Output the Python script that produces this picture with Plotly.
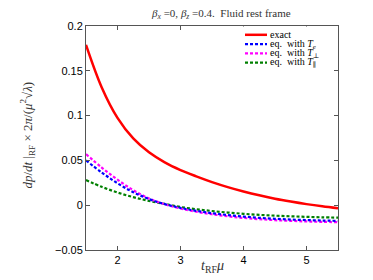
import plotly.graph_objects as go

# ---- data ----
x_vals = [1.5, 1.75, 2.0, 2.25, 2.5, 2.75, 3.0, 3.25, 3.5, 3.75, 4.0, 4.25, 4.5, 4.75, 5.0, 5.25, 5.5]
y_exact = [0.179, 0.1315, 0.0975, 0.0745, 0.059, 0.0478, 0.0392, 0.0322, 0.0258, 0.0202, 0.0153,
           0.0110, 0.0073, 0.0041, 0.0012, -0.0013, -0.0035]
y_Te = [0.050, 0.0365, 0.0245, 0.0145, 0.0068, 0.0012, -0.0030, -0.0063, -0.0089, -0.0110, -0.0127,
        -0.0141, -0.0152, -0.0160, -0.0166, -0.0171, -0.0175]
y_Tperp = [0.057, 0.042, 0.0285, 0.0168, 0.0075, 0.0010, -0.0037, -0.0073, -0.0101, -0.0124, -0.0142,
           -0.0156, -0.0167, -0.0175, -0.0181, -0.0186, -0.0189]
y_Tpar = [0.028, 0.0205, 0.0142, 0.0090, 0.0048, 0.0014, -0.0020, -0.0045, -0.0065, -0.0082, -0.0096,
          -0.0108, -0.0117, -0.0124, -0.0130, -0.0135, -0.0139]

x_ticks = [2, 3, 4, 5]
y_ticks = [-0.05, 0, 0.05, 0.1, 0.15, 0.2]
y_ticktext = ["\u22120.05", "0", "0.05", "0.1", "0.15", "0.2"]

legend_names = ["exact", "eq.  with <i>T<sub>e</sub></i>", "eq.  with <i>T</i><sub>\u22a5</sub>",
                "eq.  with <i>T</i><sub>\u2225</sub>"]
colors = ["#ff0000", "#0000ff", "#ff00ff", "#008000"]
dashes = ["solid", "3px,2px", "3px,2px", "3px,2px"]

# ---- layout geometry (page pixels; page body has an 8px margin) ----
OFF = 8
W, H = 373, 280
ML, MR, MT, MB = 86, 35, 21, 30
PW, PH = W - ML - MR, H - MT - MB


def px2x(px):
    return (px - ML) / PW


def py2y(py):
    return (H - MB - py) / PH


fig = go.Figure()
series = [y_exact, y_Te, y_Tperp, y_Tpar]
widths = [2.5, 2.2, 2.2, 2.2]
for i in [3, 2, 1, 0]:
    fig.add_trace(go.Scatter(x=x_vals, y=series[i], mode="lines", line_shape="spline",
                             line=dict(color=colors[i], width=widths[i], dash=dashes[i]),
                             name=legend_names[i], showlegend=False, hoverinfo="skip"))

# ---- manual legend ----
serif = "Liberation Serif, DejaVu Serif, serif"
rows = [30, 39.5, 49, 58.5]
fig.add_shape(type="rect", xref="paper", yref="paper",
              x0=px2x(240), x1=px2x(337.5), y0=py2y(65), y1=py2y(21.5),
              line=dict(width=0), fillcolor="white", layer="above")
for i, ry in enumerate(rows):
    fig.add_shape(type="line", xref="paper", yref="paper",
                  x0=px2x(245), x1=px2x(267), y0=py2y(ry), y1=py2y(ry),
                  line=dict(color=colors[i], width=2.2 if i else 2.5, dash=dashes[i]),
                  layer="above")
    fig.add_annotation(xref="paper", yref="paper", x=px2x(268), y=py2y(ry),
                       xanchor="left", yanchor="middle", showarrow=False,
                       text=legend_names[i], font=dict(family=serif, size=10, color="black"))

# ---- title and axis labels ----
fig.add_annotation(xref="paper", yref="paper", x=px2x(221), y=py2y(9),
                   xanchor="center", yanchor="middle", showarrow=False,
                   text="<i>\u03b2<sub>x</sub></i> =0, <i>\u03b2<sub>z</sub></i> =0.4.  Fluid rest frame",
                   font=dict(family=serif, size=11, color="#333"))
fig.add_annotation(xref="paper", yref="paper", x=px2x(212), y=py2y(267),
                   xanchor="center", yanchor="middle", showarrow=False,
                   text="<i>t</i><sub>RF</sub><i>\u03bc</i>",
                   font=dict(family=serif, size=14, color="#333"))
fig.add_annotation(xref="paper", yref="paper", x=px2x(27), y=py2y(133),
                   xanchor="center", yanchor="middle", showarrow=False, textangle=-90,
                   text="<i>dp</i>/<i>dt</i> |<sub>RF</sub> \u00d7 2<i>\u03c0</i>/(<i>\u03bc</i><sup>2</sup>\u221a<i>\u03bb</i>)",
                   font=dict(family=serif, size=13, color="#333"))

axis_common = dict(showline=True, linecolor="#555", linewidth=1, mirror="ticks",
                   ticks="inside", ticklen=4, tickcolor="#555", showgrid=False, zeroline=False,
                   tickfont=dict(family="Liberation Sans, Arial, sans-serif", size=11, color="black"))
fig.update_xaxes(range=[1.5, 5.5], tickvals=x_ticks, ticktext=[str(v) for v in x_ticks], **axis_common)
fig.update_yaxes(range=[-0.05, 0.2], tickvals=y_ticks, ticktext=y_ticktext, **axis_common)

fig.update_layout(width=W - OFF, height=H - OFF,
                  margin=dict(l=ML - OFF, r=MR, t=MT - OFF, b=MB),
                  plot_bgcolor="white", paper_bgcolor="white", showlegend=False)

fig.write_html("out.html")
